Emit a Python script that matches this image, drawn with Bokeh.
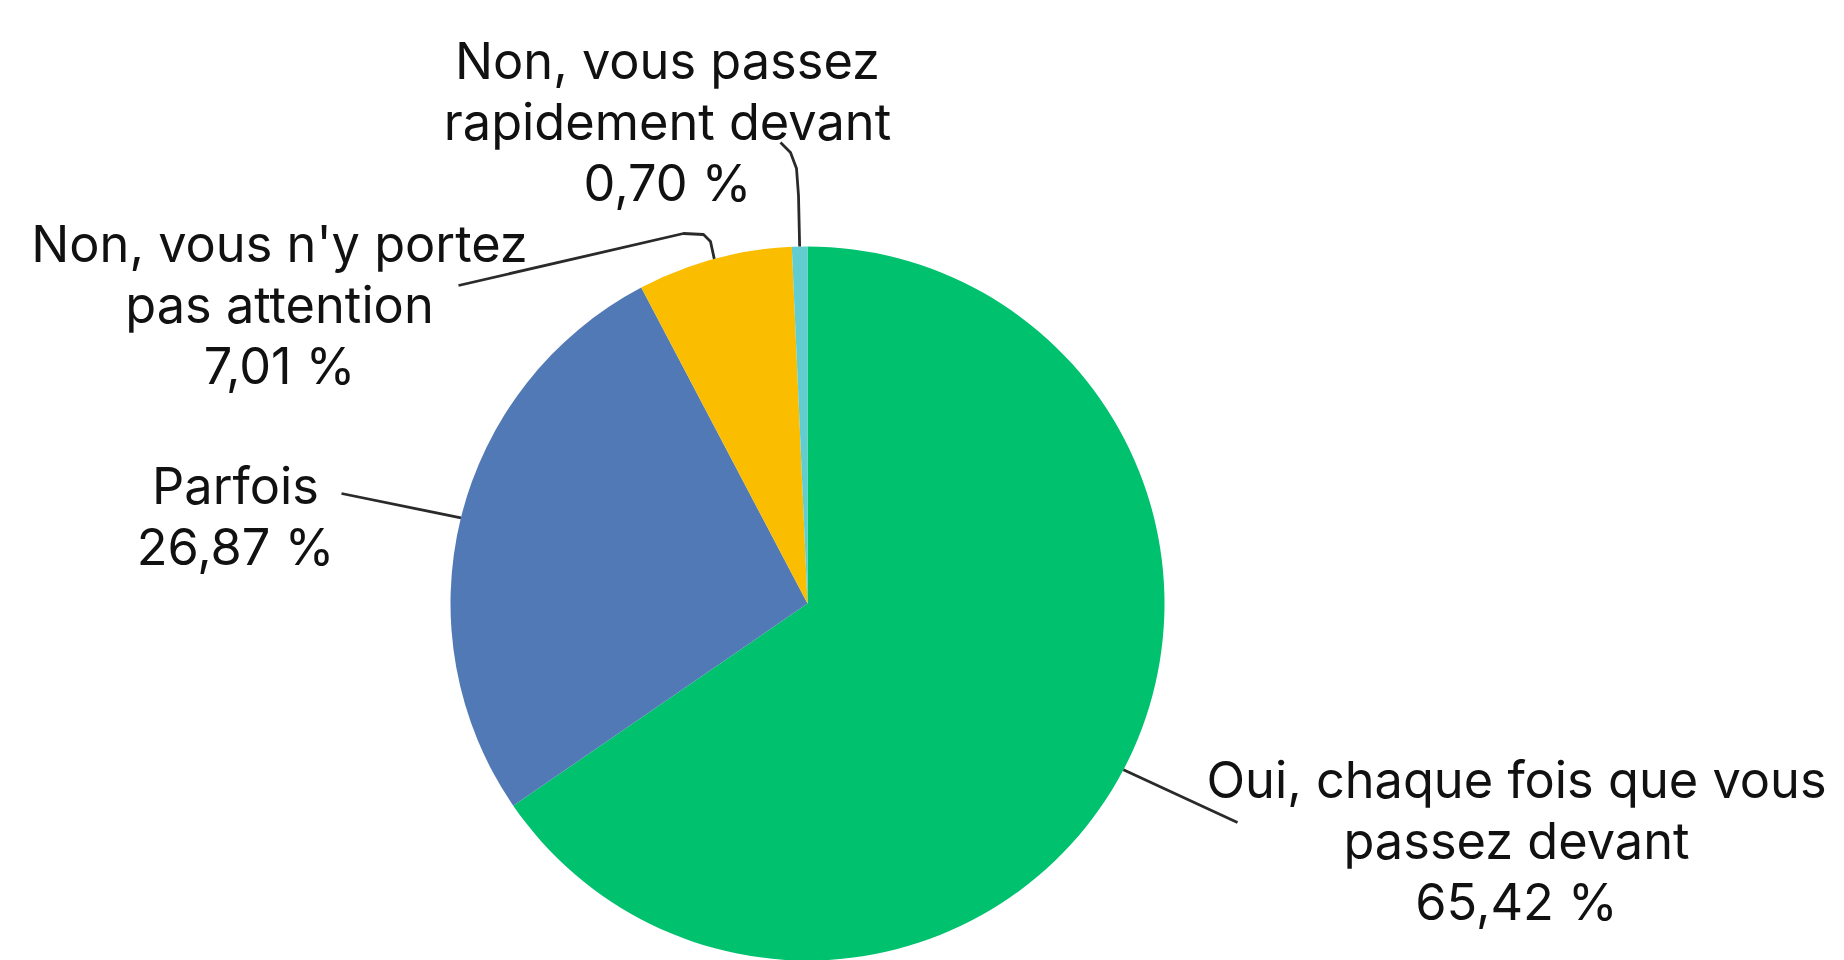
import math
from bokeh.plotting import figure
from bokeh.models import Range1d
from bokeh.core.properties import value
from bokeh.embed import file_html
from bokeh.resources import INLINE

# ---- data ----
categories = [
    "Oui, chaque fois que vous passez devant",
    "Parfois",
    "Non, vous n'y portez pas attention",
    "Non, vous passez rapidement devant",
]
shares = [65.42, 26.87, 7.01, 0.70]
pct_labels = ["65,42 %", "26,87 %", "7,01 %", "0,70 %"]
label_lines = [
    ["Oui, chaque fois que vous", "passez devant"],
    ["Parfois"],
    ["Non, vous n'y portez", "pas attention"],
    ["Non, vous passez", "rapidement devant"],
]

# ---- styles / layout (reference pixel coordinates) ----
colors = ["#00C16E", "#5079B5", "#FBBD00", "#62CDD0"]
W, H = 1844, 960
CX, CY, R = 807, 603, 357
FONT = "Inter"
FS = "50.5px"
LINE_GAP = 61
# first-line baseline position (x centre, y baseline) of each label
label_pos = [(1516, 779), (235, 485), (279, 243), (667, 60)]
# intermediate leader points (from label side towards the pie)
leader_mid = [
    [(1237, 822)],
    [(341, 493)],
    [(458, 285), (683, 233), (703, 234), (710, 241)],
    [(780, 142), (790, 152), (796, 168), (798, 195)],
]

def Y(v):
    return 960 - v

p = figure(width=W, height=H, output_backend="svg", toolbar_location=None,
           x_range=Range1d(0, W), y_range=Range1d(Y(H), Y(0)),
           min_border=0, outline_line_color=None)
p.axis.visible = False
p.grid.visible = False
p.background_fill_color = "white"
p.border_fill_color = "white"

total = sum(shares)
cum = 0.0
starts, ends, mids = [], [], []
for s in shares:
    a0 = math.pi / 2 - 2 * math.pi * cum / total
    cum += s
    a1 = math.pi / 2 - 2 * math.pi * cum / total
    starts.append(a0)
    ends.append(a1)
    mids.append((a0 + a1) / 2)

p.wedge(x=[CX] * len(shares), y=[Y(CY)] * len(shares), radius=R,
        start_angle=starts, end_angle=ends, direction="clock",
        fill_color=colors, line_color=None)

# leader lines
xs, ys = [], []
for i, m in enumerate(mids):
    ex = CX + R * math.cos(m)
    ey = Y(CY) + R * math.sin(m)
    pts = [(x, Y(y)) for (x, y) in leader_mid[i]] + [(ex, ey)]
    xs.append([q[0] for q in pts])
    ys.append([q[1] for q in pts])
p.multi_line(xs=xs, ys=ys, line_color="#2a2a2a", line_width=2.8)

# labels
tx, ty, tt = [], [], []
for i, lines in enumerate(label_lines):
    lx, ly = label_pos[i]
    all_lines = lines + [pct_labels[i]]
    for k, t in enumerate(all_lines):
        tx.append(lx)
        ty.append(Y(ly + k * LINE_GAP))
        tt.append(t)
p.text(x=tx, y=ty, text=tt, text_align="center", text_baseline="alphabetic",
       text_font=value(FONT), text_font_size=FS, text_color="#111111")

open("out.html", "w").write(file_html(p, INLINE))
